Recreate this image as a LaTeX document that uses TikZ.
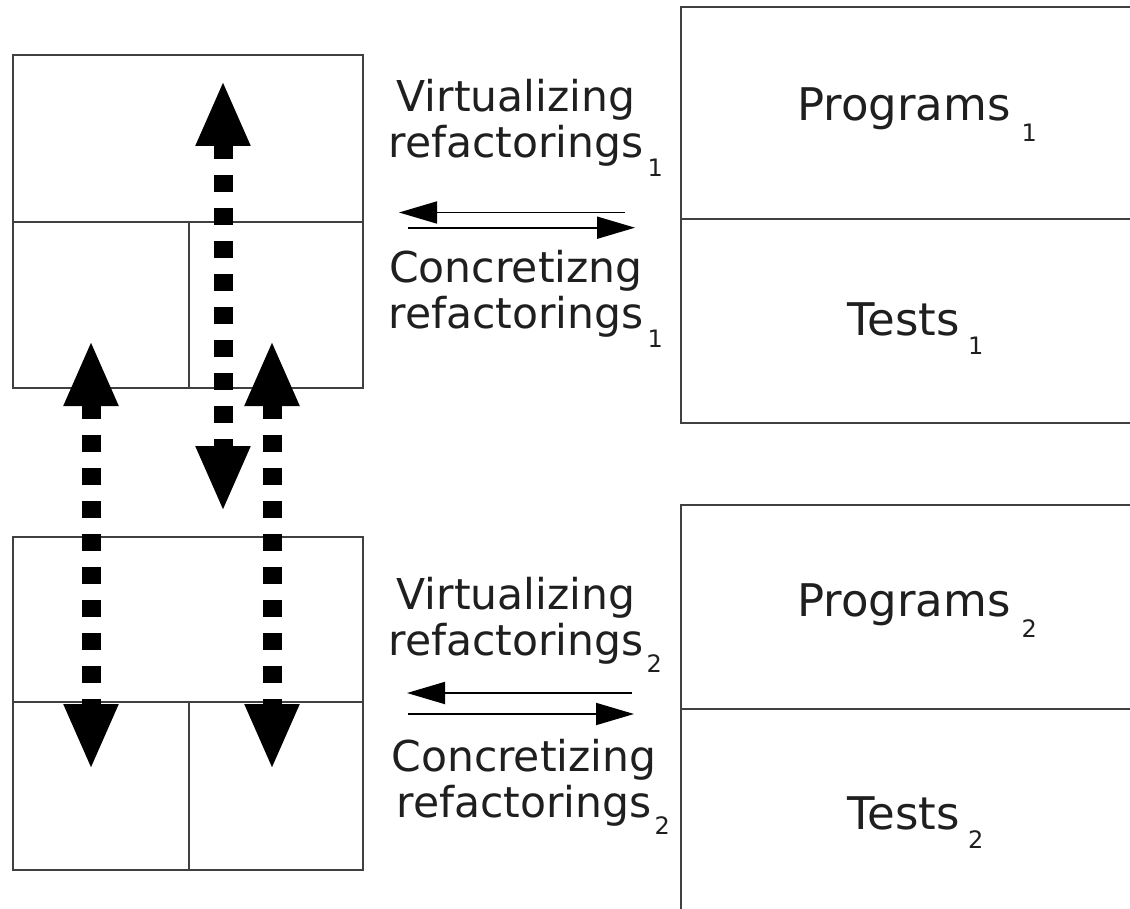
\documentclass[tikz,border=0pt]{standalone}
\usepackage{fontspec}
\setmainfont{DejaVu Sans}
\usetikzlibrary{arrows.meta}
% subscript index set beside a word without shifting its centring
\newcommand{\subidx}[3]{\rlap{\hspace{#2}\raisebox{-#3}{\fontsize{24}{24}\selectfont #1}}}
\tikzset{
  frame/.style={draw=black!75, line width=2pt},
  title/.style={anchor=base, inner sep=0pt, text=black!88, font=\fontsize{45}{50}\selectfont},
  side/.style={anchor=base, inner sep=0pt, align=center, text=black!88, font=\fontsize{42.5}{46}\selectfont},
  thin arrow/.style={line width=1.8pt, -{Triangle[length=38pt,width=22pt]}},
  big arrow/.style={line width=19pt, dash pattern=on 17pt off 16pt,
    {Triangle[length=66pt,width=50pt]}-{Triangle[length=66pt,width=50pt]}}
}
\begin{document}
\begin{tikzpicture}[x=1pt,y=-1pt]
\useasboundingbox (0,0) rectangle (1130,909);
\clip (0,0) rectangle (1130,909);

% left column: two split boxes
\draw[frame] (13,55) rectangle (363,388);
\draw[frame] (13,222) -- (363,222) (189,222) -- (189,388);
\draw[frame] (13,537) rectangle (363,870);
\draw[frame] (13,702) -- (363,702) (189,702) -- (189,870);

% right column: programs over tests
\draw[frame] (681,7) rectangle (1145,423);
\draw[frame] (681,219) -- (1145,219);
\draw[frame] (681,505) rectangle (1145,925);
\draw[frame] (681,709) -- (1145,709);

\node[title] (prog1) at (904,121) {Programs\subidx{1}{11pt}{21pt}};
\node[title] (test1) at (904,335) {Tests\subidx{1}{8pt}{19pt}};
\node[title] (prog2) at (904,616) {Programs\subidx{2}{11pt}{21pt}};
\node[title] (test2) at (904,829) {Tests\subidx{2}{8pt}{19pt}};

% refactoring labels (positioned by the baseline of their last line)
\node[side] (virt1) at (516,158) {Virtualizing\\refactorings\subidx{1}{4pt}{19pt}};
\node[side] (conc1) at (516,329) {Concretizng\\refactorings\subidx{1}{4pt}{19pt}};
\node[side] (virt2) at (516,655) {Virtualizing\\refactorings\subidx{2}{3pt}{17pt}};
\node[side] (conc2) at (524,817) {Concretizing\\refactorings\subidx{2}{3pt}{17pt}};

% refactoring directions
\coordinate (v1s) at (625,212.5);  \coordinate (v1e) at (399,212.5);
\coordinate (c1s) at (408,227.7);  \coordinate (c1e) at (635,227.7);
\coordinate (v2s) at (632,693);    \coordinate (v2e) at (407,693);
\coordinate (c2s) at (408,714);    \coordinate (c2e) at (634,714);
\draw[thin arrow] (v1s) -- (v1e);
\draw[thin arrow] (c1s) -- (c1e);
\draw[thin arrow] (v2s) -- (v2e);
\draw[thin arrow] (c2s) -- (c2e);

% dotted correspondences between the split boxes
\coordinate (a1t) at (223,80);  \coordinate (a1b) at (223,512);
\coordinate (a2t) at (91,340);  \coordinate (a2b) at (91,770);
\coordinate (a3t) at (272,340); \coordinate (a3b) at (272,770);
\draw[big arrow] (a1t) -- (a1b);
\draw[big arrow] (a2t) -- (a2b);
\draw[big arrow] (a3t) -- (a3b);
\end{tikzpicture}
\end{document}
